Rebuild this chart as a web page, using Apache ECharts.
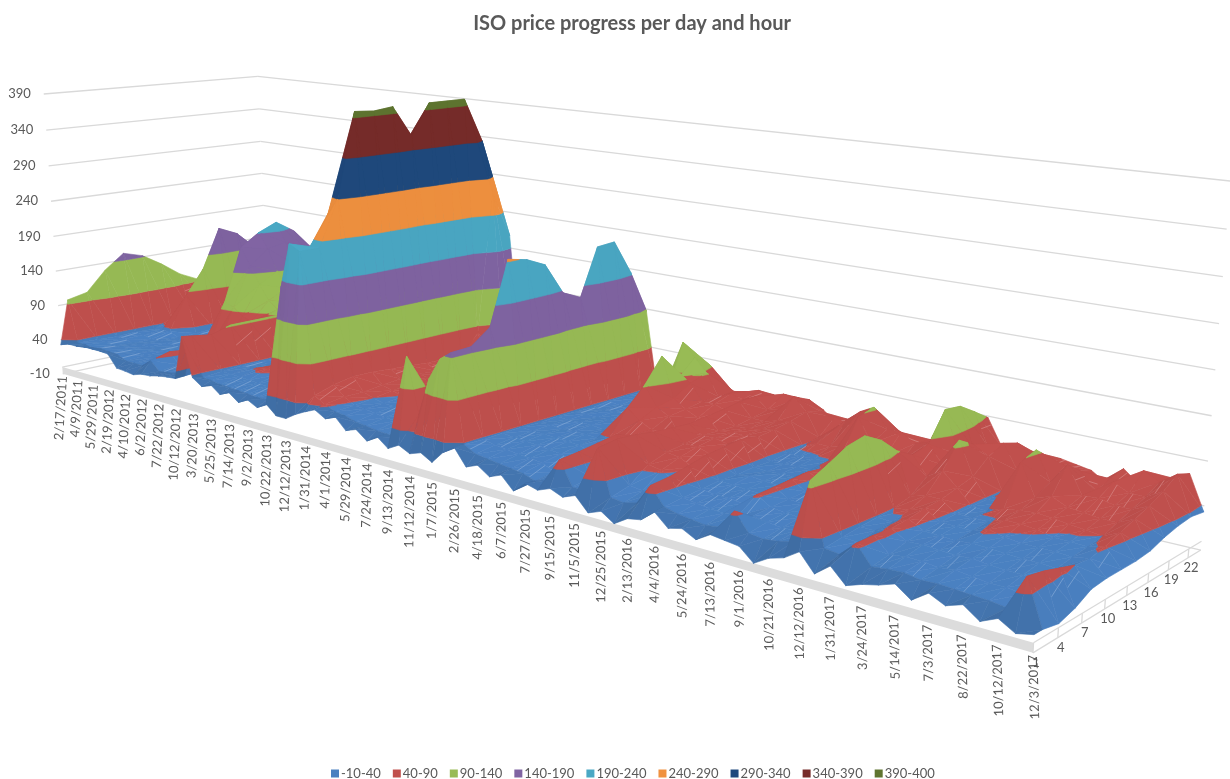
<!DOCTYPE html>
<html><head><meta charset="utf-8"><style>html,body{margin:0;background:#fff}#c{width:1230px;height:779px}</style>
<script src="https://cdn.jsdelivr.net/npm/echarts@6/dist/echarts.min.js"></script></head><body><div id="c"></div>
<script>
const chartTitle='ISO price progress per day and hour';
const dateLabels=['2/17/2011','4/9/2011','5/29/2011','2/19/2012','4/10/2012','6/2/2012','7/22/2012','10/12/2012','3/20/2013','5/25/2013','7/14/2013','9/2/2013','10/22/2013','12/12/2013','1/31/2014','4/1/2014','5/29/2014','7/24/2014','9/13/2014','11/12/2014','1/7/2015','2/26/2015','4/18/2015','6/7/2015','7/27/2015','9/15/2015','11/5/2015','12/25/2015','2/13/2016','4/4/2016','5/24/2016','7/13/2016','9/1/2016','10/21/2016','12/12/2016','1/31/2017','3/24/2017','5/14/2017','7/3/2017','8/22/2017','10/12/2017','12/3/2017'];
const hourLabels=[1,4,7,10,13,16,19,22];
const priceTicks=[-10,40,90,140,190,240,290,340,390];
const bandEdges=[-10,40,90,140,190,240,290,340,390,400];
const bandNames=['-10-40','40-90','90-140','140-190','190-240','240-290','290-340','340-390','390-400'];
const bandColors=['#4a80c0','#c0504d','#98bb55','#8064a2','#4aa8c4','#f0913f','#1f497d','#772c2a','#5f7530'];
// Sampled hours of the day, one entry of each row below per hour.
const sampledHours=[1,2,4,6,8,10,12,14,16,18,20,22,24];
// Price per sampled date (rows, two per labelled date) and sampled hour.
const priceRows=[
[33,96,102,130,150,142,125,105,92,85,78,70,65],
[37,36,35,34,35,34,45,55,60,60,60,60,58],
[37,36,34,33,34,35,50,70,80,80,75,70,60],
[39,34,32,30,30,36,85,120,177,165,140,110,90],
[39,36,33,31,30,30,31,32,31,30,30,29,28],
[39,35,33,30,31,30,30,31,32,31,30,29,28],
[38,34,31,30,29,30,30,31,30,30,29,28,28],
[21,28,30,31,30,30,31,30,30,29,29,28,28],
[20,28,30,30,31,32,31,30,30,29,28,28,28],
[18,28,31,32,33,32,32,32,31,30,29,28,28],
[22,38,45,42,36,100,174,191,202,185,155,125,100],
[23,26,30,34,40,95,150,170,175,165,140,115,95],
[26,28,30,32,40,85,125,140,145,140,120,100,85],
[28,30,30,34,40,80,105,118,120,118,105,90,75],
[29,30,32,36,50,85,95,100,100,100,92,82,68],
[90,88,84,92,92,92,92,92,90,84,78,70,60],
[37,34,36,38,38,37,38,38,37,36,36,35,34],
[28,33,36,38,37,38,37,38,36,37,36,35,34],
[34,31,35,41,39,38,37,36,38,37,36,35,34],
[24,30,34,44,46,38,37,38,37,36,36,35,33],
[30,29,33,38,44,46,38,37,36,37,36,34,33],
[20,28,32,36,40,47,44,38,37,36,35,35,33],
[27,27,31,35,38,41,47,42,37,36,36,35,34],
[20,27,31,34,37,39,42,45,38,37,36,35,34],
[28,28,31,34,36,38,39,42,38,36,36,35,34],
[16,182,190,200,240,250,260,270,275,270,250,220,180],
[16,239,230,270,340,350,350,340,340,340,320,260,200],
[25,232,232,290,398,396,399,358,399,399,399,340,255],
[32,50,58,62,62,60,58,56,55,55,80,270,207],
[38,42,45,45,48,50,50,48,46,46,45,44,42],
[30,36,37,40,44,46,48,46,45,44,42,40,40],
[36,34,36,37,39,42,44,42,40,40,38,38,37],
[22,30,34,36,37,38,36,37,38,37,36,35,34],
[27,28,32,35,36,38,37,36,38,37,38,36,34],
[16,26,31,34,36,37,38,36,37,38,37,36,34],
[25,25,30,33,35,36,38,37,36,38,37,36,35],
[14,24,30,33,36,35,37,38,37,36,38,36,35],
[22,129,55,45,40,38,38,37,38,38,37,36,35],
[15,60,62,58,50,46,44,42,40,40,40,38,38],
[20,108,70,60,55,50,48,45,44,44,42,40,40],
[12,135,100,80,65,60,55,52,50,50,48,46,44],
[28,146,147,165,243,238,227,187,176,236,238,194,138],
[38,38,37,38,38,37,38,37,36,38,38,37,36],
[18,30,34,36,37,38,37,38,37,36,38,37,35],
[24,28,32,35,37,36,38,37,38,38,37,36,35],
[14,26,30,34,36,37,38,38,38,37,38,36,34],
[20,24,29,32,35,37,36,38,38,38,37,35,34],
[5,22,27,31,34,36,37,39,42,60,125,100,60],
[18,17,20,24,28,40,70,92,122,88,108,92,50],
[14,22,26,30,34,42,58,68,72,85,92,60,48],
[20,50,52,55,58,50,50,60,62,65,65,65,58],
[14,22,26,30,33,35,37,38,55,65,72,68,55],
[20,22,26,30,33,36,38,42,50,60,68,73,61],
[4,75,78,76,72,70,68,70,72,75,75,62,56],
[10,22,28,45,52,55,58,56,55,58,62,75,64],
[0,20,26,42,50,55,58,58,56,58,65,72,60],
[10,24,28,34,42,50,55,58,58,62,85,75,55],
[13,48,50,55,60,62,64,60,62,65,70,63,42],
[26,28,30,32,34,33,35,34,36,38,42,60,50],
[12,24,28,30,33,36,34,35,37,45,55,55,46],
[16,22,26,30,32,34,35,36,38,45,70,74,60],
[8,20,25,28,31,33,35,36,38,50,84,72,50],
[18,22,27,42,43,44,45,42,50,88,93,65,44],
[16,44,30,32,33,34,36,38,45,60,70,58,42],
[14,24,28,30,32,33,35,36,38,48,70,50,46],
[0,22,26,29,31,33,34,36,38,45,60,58,44],
[10,24,27,30,32,34,35,37,40,55,66,58,44],
[15,28,30,33,35,36,38,38,42,55,64,60,48],
[26,98,108,119,123,111,92,80,85,118,115,102,88],
[7,30,33,36,38,40,45,60,65,70,70,65,58],
[20,28,32,36,37,42,50,70,97,85,72,60,55],
[4,44,44,43,45,48,50,55,60,75,83,76,52],
[10,24,28,33,36,37,38,38,38,39,55,70,50],
[14,26,30,34,35,37,38,37,38,46,52,60,58],
[20,27,30,33,34,36,38,44,88,94,74,62,55],
[8,24,28,32,36,42,44,46,52,62,72,60,52],
[20,25,30,33,35,38,44,48,58,85,70,46,41],
[12,24,28,31,34,36,42,46,50,55,52,58,62],
[18,23,26,30,33,36,38,44,48,56,66,60,48],
[6,22,26,30,33,36,38,42,46,52,58,75,52],
[14,20,24,28,32,35,37,40,46,52,58,66,63],
[4,56,52,46,40,38,42,48,54,60,68,79,72],
[8,8,4,10,20,22,22,22,24,30,34,36,33]
];

const hourPos=h=>(h-1)/23;
const datePos=i=>i/(priceRows.length-1);

// Perspective of the 3D box: a projective map from (date, hour, price) to the page, fitted to reference points of the box.
const boxPoints=[[0,0,-10,67,372],[0,0,390,44,94],[0,1,390,253,74],[0,1,-10,268,330],[1,1,-10,1201,545],[1,1,390,1228,188],[1,0,-10,1037,655],[1,0,-10,1037,655],[1,0,-10,1037,655],
[.244,0,-10,230,420],[.512,0,-10,450,484],[.854,0,-10,825,593],
[.33,.5,90,400,348],[.33,.5,390,400,111],[.33,.1,40,317,408],[.33,.9,290,490,175],
[.83,0,40,797,534],[.83,0,90,800,484]];
function fitProjection(){
  const n=11,A=Array.from({length:n},()=>Array(n+1).fill(0));
  const add=(r,v)=>{for(let i=0;i<n;i++){for(let j=0;j<n;j++)A[i][j]+=r[i]*r[j];A[i][n]+=r[i]*v;}};
  boxPoints.forEach(([d,h,z,x,y])=>{const q=z/400;add([d,h,q,1,0,0,0,0,-x*d,-x*h,-x*q],x);add([0,0,0,0,d,h,q,1,-y*d,-y*h,-y*q],y);});
  for(let i=0;i<n;i++){let p=i;for(let r=i+1;r<n;r++)if(Math.abs(A[r][i])>Math.abs(A[p][i]))p=r;[A[i],A[p]]=[A[p],A[i]];
    for(let r=0;r<n;r++)if(r!==i){const f=A[r][i]/A[i][i];for(let c=i;c<=n;c++)A[r][c]-=f*A[i][c];}}
  return A.map((r,i)=>r[n]/r[i]);
}
const M=fitProjection();
function project(d,h,z){const q=z/400,w=M[8]*d+M[9]*h+M[10]*q+1;return [(M[0]*d+M[1]*h+M[2]*q+M[3])/w,(M[4]*d+M[5]*h+M[6]*q+M[7])/w];}

// Surface triangles of one grid cell.
function cellTriangle(i,j,t){
  const v=(a,b)=>({d:datePos(a),h:hourPos(sampledHours[b]),z:priceRows[a][b]});
  return t===0?[v(i,j),v(i,j+1),v(i+1,j+1)]:[v(i,j),v(i+1,j+1),v(i+1,j)];
}
function clipBand(tri,lo,hi){
  const cut=(poly,keep,level)=>{const out=[];poly.forEach((a,k)=>{const b=poly[(k+1)%poly.length],ka=keep(a.z),kb=keep(b.z);
    if(ka)out.push(a);
    if(ka!==kb){const f=(level-a.z)/(b.z-a.z);out.push({d:a.d+(b.d-a.d)*f,h:a.h+(b.h-a.h)*f,z:level});}});return out;};
  let p=cut(tri,z=>z>=lo,lo);if(p.length)p=cut(p,z=>z<=hi,hi);return p;
}
const mixColor=(color,k,white)=>{const c=echarts.color.parse(color);return 'rgb('+[0,1,2].map(n=>Math.min(255,Math.round(c[n]*k*(1-white)+255*white))).join(',')+')';};
// Flat shading of a triangle from its facing direction.
function shade(tri,b,j){
  const u=[(tri[1].d-tri[0].d)*10,(tri[1].h-tri[0].h)*4,(tri[1].z-tri[0].z)/100],v=[(tri[2].d-tri[0].d)*10,(tri[2].h-tri[0].h)*4,(tri[2].z-tri[0].z)/100];
  let n=[u[1]*v[2]-u[2]*v[1],u[2]*v[0]-u[0]*v[2],u[0]*v[1]-u[1]*v[0]];
  const len=Math.hypot(n[0],n[1],n[2])||1;n=n.map(c=>c/len);if(n[2]<0)n=n.map(c=>-c);
  const dot=(n[0]*.5-n[1]*.3+n[2]*.8)/.98;
  const flat=b===0?.9+.12*Math.max(0,dot):.95+.06*Math.max(0,dot);
  return mixColor(bandColors[b],flat*(j===0&&b===0?.9:1),0);
}
function bandCells(b){
  const cells=[];
  for(let i=0;i<priceRows.length-1;i++)for(let j=0;j<sampledHours.length-1;j++)for(let t=0;t<2;t++){
    const zs=cellTriangle(i,j,t).map(p=>p.z);
    if(Math.max(...zs)>=bandEdges[b]&&Math.min(...zs)<bandEdges[b+1])cells.push([i,j,t]);
  }
  return cells;
}
// Thin lighter glare line running across a cell of the two lowest bands.
function glare(api,i,j,b,z2){
  const a=priceRows[i],c=priceRows[i+1];
  if((a[j]+a[j+1]+c[j])%3!==0)return null;
  const z0=(a[j]+c[j])/2,z1=(a[j+1]*.75+c[j+1]*.25),lo=bandEdges[b],hi=bandEdges[b+1];
  if(z0<lo||z0>=hi||z1<lo||z1>=hi||Math.abs(z1-z0)>14)return null;
  const d=datePos(i),s=datePos(i+1)-d;
  const p=api.coord(project(d+s*.5,hourPos(sampledHours[j]),z0)),q=api.coord(project(d+s*.25,hourPos(sampledHours[j+1]),z1));
  return {type:'line',z2,shape:{x1:p[0],y1:p[1],x2:q[0],y2:q[1]},style:{stroke:mixColor(bandColors[b],1.02,.28),lineWidth:.8}};
}
const bandSeries=bandNames.map((name,b)=>({
  type:'custom',name,coordinateSystem:'cartesian2d',silent:true,animation:false,progressive:0,
  itemStyle:{color:bandColors[b]},data:bandCells(b),z:5,
  renderItem(params,api){
    const i=api.value(0),j=api.value(1),t=api.value(2),tri=cellTriangle(i,j,t);
    const poly=clipBand(tri,bandEdges[b],bandEdges[b+1]);
    if(poly.length<3)return null;
    const fill=shade(tri,b,j),z2=(i*13+(12-j))*3+t;
    const kids=[{type:'polygon',z2,shape:{points:poly.map(p=>api.coord(project(p.d,p.h,p.z)))},style:{fill,stroke:fill,lineWidth:.6}}];
    if(b<2&&t===1&&j>0){const g=glare(api,i,j,b,z2+1);if(g)kids.push(g);}
    return {type:'group',children:kids};
  }
}));

// Box walls, floor and axis text.
const gridColor='#d9d9d9',textColor='#595959',font='13px Lato';
const lineEl=(api,a,b,w,c)=>{const p=api.coord(project(...a)),q=api.coord(project(...b));return {type:'line',shape:{x1:p[0],y1:p[1],x2:q[0],y2:q[1]},style:{stroke:c||gridColor,lineWidth:w||1.3}};};
const boxSeries={type:'custom',coordinateSystem:'cartesian2d',silent:true,animation:false,z:2,data:[[0]],
  renderItem(params,api){
    const kids=[];
    priceTicks.forEach(t=>{kids.push(lineEl(api,[0,0,t],[0,1,t]));kids.push(lineEl(api,[0,1,t],[1,1,t]));
      const p=api.coord(project(0,0,t));kids.push({type:'text',style:{text:String(t),x:p[0]-13,y:p[1],align:'right',verticalAlign:'middle',fill:textColor,font}});});
    const f=[[0,0,-10],[1,0,-10],[1,0,0],[0,0,0]].map(c=>api.coord(project(...c)));
    kids.push({type:'polygon',shape:{points:f},style:{fill:'#dcdcdc'}});
    kids.push(lineEl(api,[1,0,-10],[1,1,-10]));kids.push(lineEl(api,[1,0,0],[1,1,0]));kids.push(lineEl(api,[0,0,0],[0,1,0]));
    hourLabels.forEach(h=>{const u=hourPos(h),p=api.coord(project(1,u,-10));
      kids.push(lineEl(api,[1,u,-10],[1,u,0]));
      kids.push({type:'text',style:{text:String(h),x:p[0]+3,y:p[1]+10,align:'center',verticalAlign:'middle',fill:textColor,font}});});
    dateLabels.forEach((s,k)=>{const d=k/(dateLabels.length-1),p=api.coord(project(d,0,-10));
      kids.push({type:'text',x:p[0],y:p[1]+2,rotation:(86.5+5.5*d)*Math.PI/180,style:{text:s,x:0,y:0,align:'right',verticalAlign:'middle',fill:textColor,font}});});
    return {type:'group',children:kids};
  }};

const chart=echarts.init(document.getElementById('c'));
chart.setOption({
  animation:false,
  title:{text:chartTitle,left:627,top:9,textAlign:'center',textStyle:{fontFamily:'Lato',fontSize:20,fontWeight:'bold',color:textColor}},
  legend:{data:bandNames,left:326,top:762,icon:'rect',itemWidth:8,itemHeight:8,itemGap:12,textStyle:{fontFamily:'Lato',fontSize:13,color:textColor,padding:[0,0,0,-3]}},
  grid:{left:0,top:0,right:0,bottom:0},
  xAxis:{type:'value',min:0,max:1230,show:false},
  yAxis:{type:'value',min:0,max:779,inverse:true,show:false},
  series:[boxSeries,...bandSeries]
});
</script></body></html>
